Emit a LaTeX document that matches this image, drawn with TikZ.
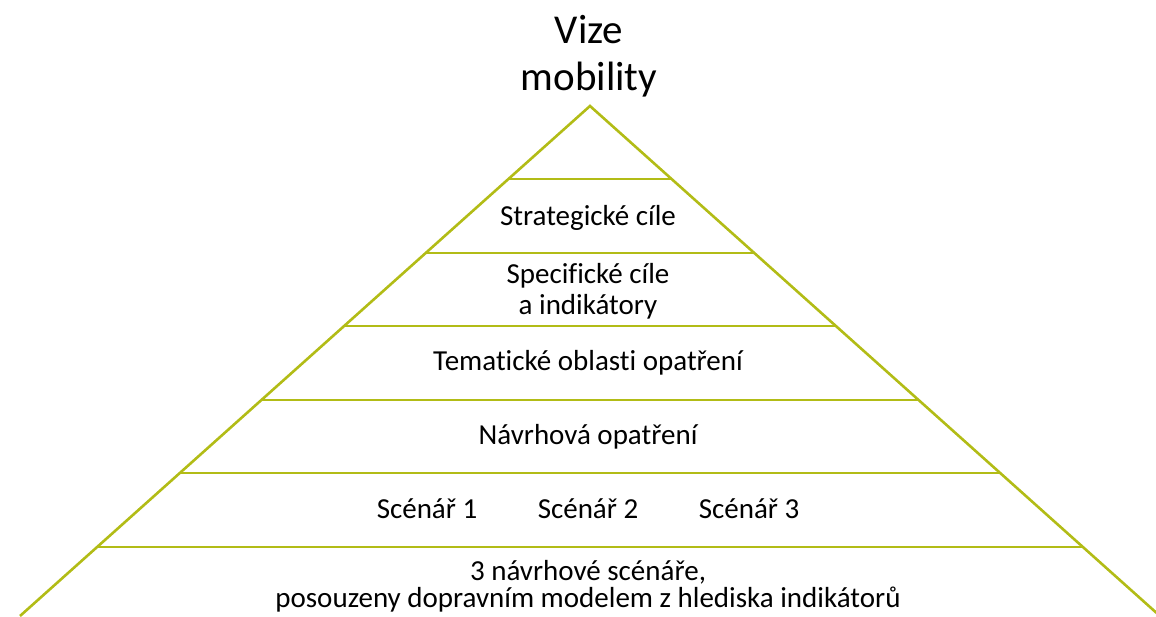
\documentclass[tikz,border=0pt]{standalone}
\usepackage{fontspec}
\setmainfont[Ligatures=NoCommon]{Carlito}
\usetikzlibrary{calc}
\definecolor{pyr}{RGB}{178,188,22}
\tikzset{
  edge/.style={draw=pyr, line width=2.6pt},
  tier/.style={inner sep=0pt, align=center, font=\fontsize{29}{31}\selectfont, anchor=base},
  title/.style={inner sep=0pt, align=center, font=\fontsize{41}{47}\selectfont, anchor=base}
}
\begin{document}
\begin{tikzpicture}[x=1pt,y=-1pt]
\useasboundingbox (0,0) rectangle (1156,616);
\clip (0,0) rectangle (1156,616);
\coordinate (apex) at (590,106);
\coordinate (L) at (20,616);
\coordinate (R) at (1160,616);
\draw[edge, line join=miter] (L) -- (apex) -- (R);
\foreach \t/\n in {0.1431/1,0.2882/2,0.4314/3,0.5765/4,0.7196/5,0.8647/6}{
  \coordinate (l\n) at ($(apex)!\t!(L)$);
  \coordinate (r\n) at ($(apex)!\t!(R)$);
  \draw[edge] (l\n) -- (r\n);
}
\node[title] (vize) at (589,43) {Vize};
\node[title] (mob) at (589,90) {mobility};
\node[tier] (strat) at (588,225) {Strategické cíle};
\node[tier] (spec1) at (588,283) {Specifické cíle};
\node[tier] (spec2) at (588,314) {a indikátory};
\node[tier] (tema) at (588,370) {Tematické oblasti opatření};
\node[tier] (navr) at (588,444) {Návrhová opatření};
\node[tier] (sc1) at (427,518) {Scénář 1};
\node[tier] (sc2) at (588,518) {Scénář 2};
\node[tier] (sc3) at (749,518) {Scénář 3};
\node[tier] (b1) at (588,580) {3 návrhové scénáře,};
\node[tier] (b2) at (588,607) {posouzeny dopravním modelem z hlediska indikátorů};
\end{tikzpicture}
\end{document}
